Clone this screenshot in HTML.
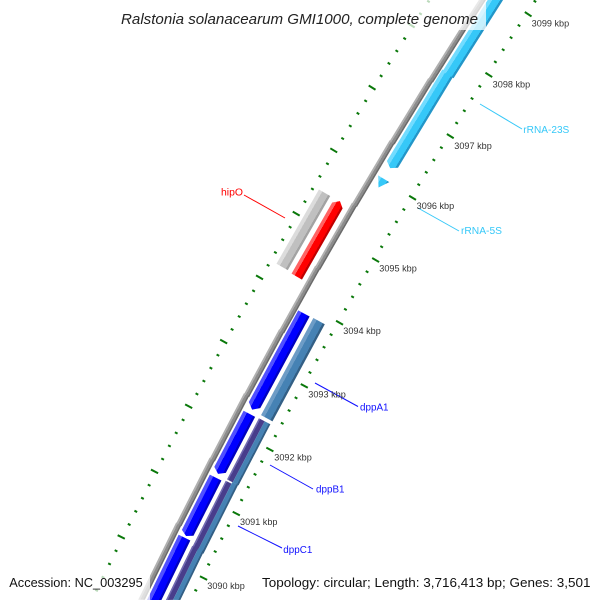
<!DOCTYPE html>
<html><head><meta charset="utf-8"><style>
html,body{margin:0;padding:0;background:#fff;width:600px;height:600px;overflow:hidden;}
svg{display:block;position:absolute;left:0;top:0;}
text{font-family:"Liberation Sans",sans-serif;}
</style></head><body>
<svg width="600" height="600" viewBox="0 0 600 600" xmlns="http://www.w3.org/2000/svg" xmlns:xlink="http://www.w3.org/1999/xlink">
<defs>
<linearGradient id="gBack" gradientUnits="userSpaceOnUse" x1="5534" y1="0" x2="5528" y2="0">
<stop offset="0" stop-color="#b0b0b0"/><stop offset="0.33" stop-color="#b0b0b0"/><stop offset="0.33" stop-color="#8c8c8c"/><stop offset="0.75" stop-color="#8c8c8c"/><stop offset="0.75" stop-color="#6b6b6b"/><stop offset="1" stop-color="#6b6b6b"/>
</linearGradient>
<linearGradient id="gRed" gradientUnits="userSpaceOnUse" x1="5551" y1="0" x2="5539" y2="0">
<stop offset="0" stop-color="#ff6464"/><stop offset="0.3" stop-color="#ff6464"/><stop offset="0.3" stop-color="#ff0000"/><stop offset="0.82" stop-color="#ff0000"/><stop offset="0.82" stop-color="#c00000"/><stop offset="1" stop-color="#c00000"/>
</linearGradient>
<linearGradient id="gGray" gradientUnits="userSpaceOnUse" x1="5569" y1="0" x2="5556" y2="0">
<stop offset="0" stop-color="#dcdcdc"/><stop offset="0.3" stop-color="#dcdcdc"/><stop offset="0.3" stop-color="#c0c0c0"/><stop offset="0.82" stop-color="#c0c0c0"/><stop offset="0.82" stop-color="#a3a3a3"/><stop offset="1" stop-color="#a3a3a3"/>
</linearGradient>
<linearGradient id="gBlue" gradientUnits="userSpaceOnUse" x1="5526" y1="0" x2="5513" y2="0">
<stop offset="0" stop-color="#5050ff"/><stop offset="0.3" stop-color="#5050ff"/><stop offset="0.3" stop-color="#0000ff"/><stop offset="0.82" stop-color="#0000ff"/><stop offset="0.82" stop-color="#0000c0"/><stop offset="1" stop-color="#0000c0"/>
</linearGradient>
<linearGradient id="gCyan" gradientUnits="userSpaceOnUse" x1="5526" y1="0" x2="5513" y2="0">
<stop offset="0" stop-color="#72dcff"/><stop offset="0.3" stop-color="#72dcff"/><stop offset="0.3" stop-color="#36c8f8"/><stop offset="0.82" stop-color="#36c8f8"/><stop offset="0.82" stop-color="#2396c8"/><stop offset="1" stop-color="#2396c8"/>
</linearGradient>
<linearGradient id="gSteel" gradientUnits="userSpaceOnUse" x1="5509" y1="0" x2="5496" y2="0">
<stop offset="0" stop-color="#6d9cc6"/><stop offset="0.3" stop-color="#6d9cc6"/><stop offset="0.3" stop-color="#4682b4"/><stop offset="0.82" stop-color="#4682b4"/><stop offset="0.82" stop-color="#335f85"/><stop offset="1" stop-color="#335f85"/>
</linearGradient>
<linearGradient id="gSlate" gradientUnits="userSpaceOnUse" x1="5509" y1="0" x2="5502.5" y2="0">
<stop offset="0" stop-color="#7069b0"/><stop offset="0.25" stop-color="#7069b0"/><stop offset="0.25" stop-color="#483d8b"/><stop offset="1" stop-color="#483d8b"/>
</linearGradient>
<linearGradient id="gSteel2" gradientUnits="userSpaceOnUse" x1="5502.5" y1="0" x2="5496" y2="0">
<stop offset="0" stop-color="#4682b4"/><stop offset="0.72" stop-color="#4682b4"/><stop offset="0.72" stop-color="#335f85"/><stop offset="1" stop-color="#335f85"/>
</linearGradient>
<g id="mn" stroke="#0a780a" stroke-width="2"><line x1="5485" y1="0" x2="5488" y2="0"/><line x1="5574" y1="0" x2="5577" y2="0"/></g>
<g id="mj" stroke="#0a780a" stroke-width="2"><line x1="5481" y1="0" x2="5489" y2="0"/><line x1="5573" y1="0" x2="5581" y2="0"/></g>
<line id="mnL" x1="5574" y1="0" x2="5577" y2="0" stroke="#0a780a" stroke-width="2"/>
</defs>
<rect x="0" y="0" width="600" height="600" fill="#fff"/>
<g transform="translate(5111 3028)">
<g fill="url(#gBack)">
<polygon points="5528,-9.15 5534,-12.10 5534,74 5528,74" transform="rotate(-153.8482)"/>
<rect x="5528" y="0" width="6" height="74" transform="rotate(-153.0926)"/>
<rect x="5528" y="0" width="6" height="74" transform="rotate(-152.3370)"/>
<rect x="5528" y="0" width="6" height="74" transform="rotate(-151.5814)"/>
<rect x="5528" y="0" width="6" height="74" transform="rotate(-150.8258)"/>
<rect x="5528" y="0" width="6" height="74" transform="rotate(-150.0702)"/>
<rect x="5528" y="0" width="6" height="74" transform="rotate(-149.3146)"/>
<rect x="5528" y="0" width="6" height="74" transform="rotate(-148.5590)"/>
<rect x="5528" y="0" width="6" height="74" transform="rotate(-147.8034)"/>
<rect x="5528" y="0" width="6" height="74" transform="rotate(-147.0478)"/>
<rect x="5528" y="0" width="6" height="74" transform="rotate(-146.2922)"/>
</g>
<rect x="5556" y="0" width="13" height="85.5" transform="rotate(-150.240)" fill="url(#gGray)"/>
<polygon points="5551,0 5539,0 5539,81.9 5545,87 5551,81.9" transform="rotate(-150.2515)" fill="url(#gRed)"/>
<polygon points="5519.5,0 5526,4.4 5526,111.4 5513,111.4 5513,4.4" transform="rotate(-148.793)" fill="url(#gCyan)"/>
<rect x="5513" y="0" width="13" height="125" transform="rotate(-147.652)" fill="url(#gCyan)"/>
<polygon points="5519.5,0 5526,10.2 5513,10.2" transform="rotate(-149.0275)" fill="url(#gCyan)"/>
<polygon points="5519.5,0 5526,5.1 5526,109.2 5513,109.2 5513,5.1" transform="rotate(-151.680)" fill="url(#gBlue)"/>
<polygon points="5519.5,0 5526,4.4 5526,67.7 5513,67.7 5513,4.4" transform="rotate(-152.435)" fill="url(#gBlue)"/>
<polygon points="5519.5,0 5526,3.6 5526,65.5 5513,65.5 5513,3.6" transform="rotate(-153.161)" fill="url(#gBlue)"/>
<polygon points="5513,19.80 5526,13.48 5526,85.9 5513,85.9" transform="rotate(-154.075)" fill="url(#gBlue)"/>
<rect x="5496" y="0" width="13" height="110.3" transform="rotate(-151.687)" fill="url(#gSteel)"/>
<rect x="5502.5" y="0" width="6.5" height="68.9" transform="rotate(-152.443)" fill="url(#gSlate)"/>
<rect x="5502.5" y="0" width="6.5" height="75.2" transform="rotate(-153.244)" fill="url(#gSlate)"/>
<polygon points="5502.5,24.91 5509,21.74 5509,82 5502.5,82" transform="rotate(-154.075)" fill="url(#gSlate)"/>
<rect x="5496" y="0" width="6.5" height="68.9" transform="rotate(-152.443)" fill="url(#gSteel2)"/>
<rect x="5496" y="0" width="6.5" height="77" transform="rotate(-153.244)" fill="url(#gSteel2)"/>
<polygon points="5496,28.06 5502.5,24.91 5502.5,82 5496,82" transform="rotate(-154.075)" fill="url(#gSteel2)"/>
<use xlink:href="#mj" transform="rotate(-146.670)"/>
<use xlink:href="#mj" transform="rotate(-147.4256)"/>
<use xlink:href="#mj" transform="rotate(-148.1812)"/>
<use xlink:href="#mj" transform="rotate(-148.9368)"/>
<use xlink:href="#mj" transform="rotate(-149.6924)"/>
<use xlink:href="#mj" transform="rotate(-150.4480)"/>
<use xlink:href="#mj" transform="rotate(-151.2036)"/>
<use xlink:href="#mj" transform="rotate(-151.9592)"/>
<use xlink:href="#mj" transform="rotate(-152.7148)"/>
<use xlink:href="#mj" transform="rotate(-153.4704)"/>
<use xlink:href="#mn" transform="rotate(-146.2166)"/>
<use xlink:href="#mn" transform="rotate(-146.3678)"/>
<use xlink:href="#mn" transform="rotate(-146.5189)"/>
<use xlink:href="#mn" transform="rotate(-146.8211)"/>
<use xlink:href="#mn" transform="rotate(-146.9722)"/>
<use xlink:href="#mn" transform="rotate(-147.1234)"/>
<use xlink:href="#mn" transform="rotate(-147.2745)"/>
<use xlink:href="#mn" transform="rotate(-147.5767)"/>
<use xlink:href="#mn" transform="rotate(-147.7278)"/>
<use xlink:href="#mn" transform="rotate(-147.8790)"/>
<use xlink:href="#mn" transform="rotate(-148.0301)"/>
<use xlink:href="#mn" transform="rotate(-148.3323)"/>
<use xlink:href="#mn" transform="rotate(-148.4834)"/>
<use xlink:href="#mn" transform="rotate(-148.6346)"/>
<use xlink:href="#mn" transform="rotate(-148.7857)"/>
<use xlink:href="#mn" transform="rotate(-149.0879)"/>
<use xlink:href="#mn" transform="rotate(-149.2390)"/>
<use xlink:href="#mn" transform="rotate(-149.3902)"/>
<use xlink:href="#mn" transform="rotate(-149.5413)"/>
<use xlink:href="#mn" transform="rotate(-149.8435)"/>
<use xlink:href="#mn" transform="rotate(-149.9946)"/>
<use xlink:href="#mn" transform="rotate(-150.1458)"/>
<use xlink:href="#mn" transform="rotate(-150.2969)"/>
<use xlink:href="#mn" transform="rotate(-150.5991)"/>
<use xlink:href="#mn" transform="rotate(-150.7502)"/>
<use xlink:href="#mn" transform="rotate(-150.9014)"/>
<use xlink:href="#mn" transform="rotate(-151.0525)"/>
<use xlink:href="#mn" transform="rotate(-151.3547)"/>
<use xlink:href="#mn" transform="rotate(-151.5058)"/>
<use xlink:href="#mn" transform="rotate(-151.6570)"/>
<use xlink:href="#mn" transform="rotate(-151.8081)"/>
<use xlink:href="#mn" transform="rotate(-152.1103)"/>
<use xlink:href="#mn" transform="rotate(-152.2614)"/>
<use xlink:href="#mn" transform="rotate(-152.4126)"/>
<use xlink:href="#mn" transform="rotate(-152.5637)"/>
<use xlink:href="#mn" transform="rotate(-152.8659)"/>
<use xlink:href="#mn" transform="rotate(-153.0170)"/>
<use xlink:href="#mn" transform="rotate(-153.1682)"/>
<use xlink:href="#mn" transform="rotate(-153.3193)"/>
<use xlink:href="#mn" transform="rotate(-153.6215)"/>
<use xlink:href="#mnL" transform="rotate(-153.7726)"/>
<use xlink:href="#mnL" transform="rotate(-153.9238)"/>
<use xlink:href="#mnL" transform="rotate(-154.0749)"/>
</g>
<rect x="116" y="0" width="370" height="30" fill="#fff" fill-opacity="0.72"/>
<rect x="4" y="571" width="146" height="29" fill="#fff" fill-opacity="0.72"/>
<line x1="244" y1="195" x2="285" y2="218" stroke="#ff0000" stroke-width="1"/>
<line x1="480" y1="104" x2="522" y2="129" stroke="#36c8f8" stroke-width="1"/>
<line x1="418" y1="208" x2="459" y2="231" stroke="#36c8f8" stroke-width="1"/>
<line x1="315" y1="383" x2="358" y2="406.5" stroke="#1010ff" stroke-width="1"/>
<line x1="270" y1="465" x2="313" y2="489" stroke="#1010ff" stroke-width="1"/>
<line x1="238" y1="526" x2="282" y2="548" stroke="#1010ff" stroke-width="1"/>
<text x="221" y="195.5" font-size="10.5" fill="#ff0000" textLength="22" lengthAdjust="spacingAndGlyphs">hipO</text>
<text x="523.3" y="133" font-size="10" fill="#36c8f8" textLength="46" lengthAdjust="spacingAndGlyphs">rRNA-23S</text>
<text x="461" y="234" font-size="10" fill="#36c8f8" textLength="41" lengthAdjust="spacingAndGlyphs">rRNA-5S</text>
<text x="360" y="410.5" font-size="10" fill="#1010ff" textLength="28.5" lengthAdjust="spacingAndGlyphs">dppA1</text>
<text x="316" y="492.5" font-size="10" fill="#1010ff" textLength="28.5" lengthAdjust="spacingAndGlyphs">dppB1</text>
<text x="283.3" y="553" font-size="10" fill="#1010ff" textLength="29" lengthAdjust="spacingAndGlyphs">dppC1</text>
<g font-size="9" fill="#333">
<text x="531.7" y="26.5" textLength="37.5" lengthAdjust="spacingAndGlyphs">3099 kbp</text>
<text x="492.7" y="87.5" textLength="37.5" lengthAdjust="spacingAndGlyphs">3098 kbp</text>
<text x="454.3" y="149.2" textLength="37.5" lengthAdjust="spacingAndGlyphs">3097 kbp</text>
<text x="416.7" y="209.2" textLength="37.5" lengthAdjust="spacingAndGlyphs">3096 kbp</text>
<text x="379.3" y="271.5" textLength="37.5" lengthAdjust="spacingAndGlyphs">3095 kbp</text>
<text x="343.3" y="334.2" textLength="37.5" lengthAdjust="spacingAndGlyphs">3094 kbp</text>
<text x="308.3" y="397.5" textLength="37.5" lengthAdjust="spacingAndGlyphs">3093 kbp</text>
<text x="274.3" y="460.5" textLength="37.5" lengthAdjust="spacingAndGlyphs">3092 kbp</text>
<text x="240" y="524.8" textLength="37.5" lengthAdjust="spacingAndGlyphs">3091 kbp</text>
<text x="207.3" y="588.8" textLength="37.5" lengthAdjust="spacingAndGlyphs">3090 kbp</text>
</g>
<text x="121" y="24" font-size="15" font-style="italic" fill="#222" textLength="357" lengthAdjust="spacingAndGlyphs">Ralstonia solanacearum GMI1000, complete genome</text>
<text x="9.3" y="587" font-size="13" fill="#111" textLength="133.4" lengthAdjust="spacingAndGlyphs">Accession: NC_003295</text>
<text x="262" y="587" font-size="13" fill="#111" textLength="328.5" lengthAdjust="spacingAndGlyphs">Topology: circular; Length: 3,716,413 bp; Genes: 3,501</text>
</svg>
</body></html>
